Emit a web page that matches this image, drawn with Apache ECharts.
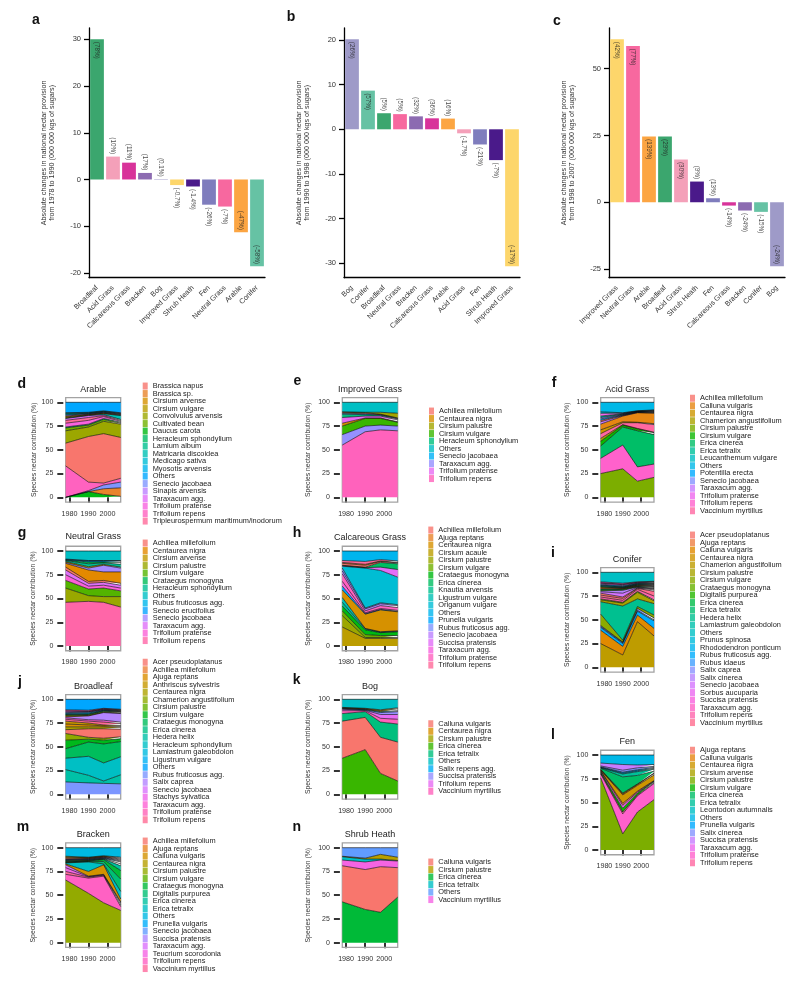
<!DOCTYPE html>
<html><head><meta charset="utf-8">
<script src="https://cdn.jsdelivr.net/npm/echarts@6/dist/echarts.min.js"></script>
<style>html,body{margin:0;padding:0;background:#fff}#c{width:800px;height:984px}</style>
</head><body><div id="c"></div><script>
// ---------- DATA: bar panels ----------
const aCats = ['Broadleaf','Acid Grass','Calcareous Grass','Bracken','Bog','Improved Grass','Shrub Heath','Fen','Neutral Grass','Arable','Conifer'];
const aVals = [30, 4.9, 3.6, 1.4, 0.1, -1.2, -1.5, -5.4, -5.8, -11.3, -18.6];
const aPct  = ['(78%)','(10%)','(11%)','(17%)','(0.1%)','(-0.7%)','(-1.4%)','(-26%)','(-7%)','(-47%)','(-58%)'];
const aTicks = [-20, -10, 0, 10, 20, 30];

const bCats = ['Bog','Conifer','Broadleaf','Neutral Grass','Bracken','Calcareous Grass','Arable','Acid Grass','Fen','Shrub Heath','Improved Grass'];
const bVals = [20.15, 8.66, 3.6, 3.4, 2.9, 2.46, 2.4, -0.9, -3.4, -6.9, -30.7];
const bPct  = ['(26%)','(57%)','(5%)','(5%)','(32%)','(36%)','(16%)','(-1.7%)','(-21%)','(-7%)','(-17%)'];
const bTicks = [-30, -20, -10, 0, 10, 20];

const cCats = ['Improved Grass','Neutral Grass','Arable','Broadleaf','Acid Grass','Shrub Heath','Fen','Calcareous Grass','Bracken','Conifer','Bog'];
const cVals = [61, 58.5, 24.6, 24.6, 16, 7.75, 1.5, -1.25, -3.1, -3.6, -24];
const cPct  = ['(42%)','(77%)','(139%)','(29%)','(30%)','(9%)','(13%)','(-14%)','(-24%)','(-15%)','(-24%)'];
const cTicks = [-25, 0, 25, 50];

// ---------- DATA: species panels ----------
const years = [1978, 1990, 1998, 2007];
const yearTicks = [1980, 1990, 2000];
const pctTicks = [0, 25, 50, 75, 100];

const arableSpecies = ['Brassica napus','Brassica sp.','Cirsium arvense','Cirsium vulgare','Convolvulus arvensis','Cultivated bean','Daucus carota','Heracleum sphondylium','Lamium album','Matricaria discoidea','Medicago sativa','Myosotis arvensis','Others','Senecio jacobaea','Sinapis arvensis','Taraxacum agg.','Trifolium pratense','Trifolium repens','Tripleurospermum maritimum/inodorum'];
const arableBands = [
 ['Daucus carota',[0,6,3,1]],['Brassica sp.',[0,0,6,9]],['Senecio jacobaea',[0,1,4,6]],['Trifolium repens',[33,9,2,4]],
 ['Brassica napus',[24,48,52,43]],['Convolvulus arvensis',[13,10,13,14]],['Cultivated bean',[3,2,2,1]],['Heracleum sphondylium',[1,1,1,1]],
 ['Trifolium pratense',[4,4,2,1]],['Tripleurospermum maritimum/inodorum',[3,3,1,1]],['Taraxacum agg.',[2,2,1,1]],['Matricaria discoidea',[0.5,0.5,1,4]],
 ['Cirsium arvense',[1,0.5,0.5,0.5]],['Cirsium vulgare',[1,0.5,0.5,0.5]],['Sinapis arvensis',[1,0.5,0.5,0.5]],['Myosotis arvensis',[1,0.5,0.5,0.5]],
 ['Lamium album',[1,0.5,0.5,0.5]],['Medicago sativa',[0.5,0.5,0.5,0.5]],['Others',[11,10.5,9,11]]];

const improvedSpecies = ['Achillea millefolium','Centaurea nigra','Cirsium palustre','Cirsium vulgare','Heracleum sphondylium','Others','Senecio jacobaea','Taraxacum agg.','Trifolium pratense','Trifolium repens'];
const improvedBands = [
 ['Trifolium repens',[55,69,71,70]],['Taraxacum agg.',[11,6,5,5]],['Cirsium vulgare',[9,8,7,4]],['Centaurea nigra',[3,0.5,0.5,0.5]],
 ['Trifolium pratense',[6,2,2,2]],['Heracleum sphondylium',[3.5,1.5,1,1]],['Senecio jacobaea',[1,1,0.5,0.5]],['Achillea millefolium',[1,1,0.5,0.5]],
 ['Cirsium palustre',[0.5,0.5,2,5]],['Others',[10,10.5,10.5,11.5]]];

const acidSpecies = ['Achillea millefolium','Calluna vulgaris','Centaurea nigra','Chamerion angustifolium','Cirsium palustre','Cirsium vulgare','Erica cinerea','Erica tetralix','Leucanthemum vulgare','Others','Potentilla erecta','Senecio jacobaea','Taraxacum agg.','Trifolium pratense','Trifolium repens','Vaccinium myrtillus'];
const acidBands = [
 ['Cirsium palustre',[25,30,17,21]],['Trifolium repens',[16,25,15,14]],['Erica cinerea',[13,19,38,31]],['Cirsium vulgare',[5,2,2,2]],
 ['Chamerion angustifolium',[3,0.5,0.5,0.5]],['Vaccinium myrtillus',[5,2,6,8]],['Centaurea nigra',[4,1,0.5,1]],['Calluna vulgaris',[6,6,10,11]],
 ['Taraxacum agg.',[2.5,0.5,0.3,0.5]],['Achillea millefolium',[1.5,0.5,0.3,0.5]],['Potentilla erecta',[1.5,0.5,0.3,0.5]],['Senecio jacobaea',[1.5,0.5,0.3,0.5]],
 ['Erica tetralix',[1.5,0.5,0.3,0.5]],['Trifolium pratense',[3,0.5,0.3,0.5]],['Leucanthemum vulgare',[1.5,0.5,0.3,0.5]],['Others',[10,11,9,8]]];

const neutralSpecies = ['Achillea millefolium','Centaurea nigra','Cirsium arvense','Cirsium palustre','Cirsium vulgare','Crataegus monogyna','Heracleum sphondylium','Others','Rubus fruticosus agg.','Senecio erucifolius','Senecio jacobaea','Taraxacum agg.','Trifolium pratense','Trifolium repens'];
const neutralBands = [
 ['Trifolium repens',[46,47,46,41]],['Cirsium palustre',[15,6,6,11]],['Cirsium vulgare',[8,7,9,6]],['Trifolium pratense',[6,3,3,3]],
 ['Taraxacum agg.',[5,3,3,3]],['Achillea millefolium',[3,2,2,2]],['Centaurea nigra',[4,12,9,12]],['Senecio jacobaea',[1,2,7,4]],
 ['Cirsium arvense',[1,1.5,1,1]],['Heracleum sphondylium',[1,3,1.5,3]],['Crataegus monogyna',[0.5,2,1,2]],['Rubus fruticosus agg.',[0.5,1,1,1.5]],
 ['Senecio erucifolius',[0.5,0.5,0.5,0.5]],['Others',[8.5,10,10,10]]];

const calcSpecies = ['Achillea millefolium','Ajuga reptans','Centaurea nigra','Cirsium acaule','Cirsium palustre','Cirsium vulgare','Crataegus monogyna','Erica cinerea','Knautia arvensis','Ligustrum vulgare','Origanum vulgare','Others','Prunella vulgaris','Rubus fruticosus agg.','Senecio jacobaea','Succisa pratensis','Taraxacum agg.','Trifolium pratense','Trifolium repens'];
const calcBands = [
 ['Cirsium acaule',[20,8,8,8]],['Cirsium palustre',[12,1,1,1]],['Cirsium vulgare',[5,3,2,2]],['Crataegus monogyna',[5,5,3,4]],
 ['Knautia arvensis',[4,1,0.5,0.5]],['Ligustrum vulgare',[5,0.5,0.5,0.5]],['Centaurea nigra',[8,15,23,20]],['Prunella vulgaris',[4,0.5,0.5,0.5]],
 ['Taraxacum agg.',[5,1,1,1]],['Trifolium pratense',[8,2,3,3]],['Senecio jacobaea',[3,2,2,2]],['Rubus fruticosus agg.',[3,1,1,1]],
 ['Origanum vulgare',[2,42,34,29]],['Succisa pratensis',[0.5,0.5,3.5,8]],['Erica cinerea',[0.5,0.5,5,6]],['Achillea millefolium',[2,2,1,1]],
 ['Ajuga reptans',[1,1,0.5,0.5]],['Trifolium repens',[2,3,1.5,1.5]],['Others',[10,11,9,10.5]]];

const coniferSpecies = ['Acer pseudoplatanus','Ajuga reptans','Calluna vulgaris','Centaurea nigra','Chamerion angustifolium','Cirsium palustre','Cirsium vulgare','Crataegus monogyna','Digitalis purpurea','Erica cinerea','Erica tetralix','Hedera helix','Lamiastrum galeobdolon','Others','Prunus spinosa','Rhododendron ponticum','Rubus fruticosus agg.','Rubus idaeus','Salix caprea','Salix cinerea','Senecio jacobaea','Sorbus aucuparia','Succisa pratensis','Taraxacum agg.','Trifolium repens','Vaccinium myrtillus'];
const coniferBands = [
 ['Chamerion angustifolium',[25,13,48,33]],['Calluna vulgaris',[14,9,7,8]],['Rubus fruticosus agg.',[3,3,4,8]],['Rubus idaeus',[1,1,1,1]],
 ['Salix caprea',[1,0.5,2,2]],['Cirsium vulgare',[12,2,2,3]],['Hedera helix',[13,36,8,12]],['Cirsium palustre',[2,3,7,3]],
 ['Crataegus monogyna',[1,1,1,1]],['Trifolium repens',[2,2,2,4]],['Vaccinium myrtillus',[2,2,1,5]],['Acer pseudoplatanus',[2,1.5,0.5,1.5]],
 ['Senecio jacobaea',[1.5,4,0.5,1]],['Salix cinerea',[1,3,0.5,0.5]],['Digitalis purpurea',[1,1,0.5,1]],['Erica cinerea',[1,0.5,0.5,1]],
 ['Ajuga reptans',[1,0.5,0.5,0.5]],['Centaurea nigra',[1,0.5,0.5,0.5]],['Erica tetralix',[0.5,0.5,0.5,1]],['Lamiastrum galeobdolon',[1,0.5,0.5,0.5]],
 ['Prunus spinosa',[0.5,0.5,0.5,0.5]],['Rhododendron ponticum',[1,1,0.5,0.5]],['Sorbus aucuparia',[1,1,0.5,1]],['Succisa pratensis',[0.5,0.5,0.5,0.5]],
 ['Taraxacum agg.',[1,1,0.5,0.5]],['Others',[10,11.5,10,9.5]]];

const broadSpecies = ['Acer pseudoplatanus','Achillea millefolium','Ajuga reptans','Anthriscus sylvestris','Centaurea nigra','Chamerion angustifolium','Cirsium palustre','Cirsium vulgare','Crataegus monogyna','Erica cinerea','Hedera helix','Heracleum sphondylium','Lamiastrum galeobdolon','Ligustrum vulgare','Others','Rubus fruticosus agg.','Salix caprea','Senecio jacobaea','Stachys sylvatica','Taraxacum agg.','Trifolium pratense','Trifolium repens'];
const broadBands = [
 ['Rubus fruticosus agg.',[13,12,11.5,11]],['Hedera helix',[13,8,2.5,9.5]],['Heracleum sphondylium',[12,20,19,19]],['Crataegus monogyna',[10,15,20,16]],
 ['Cirsium vulgare',[9,3,4,3]],['Chamerion angustifolium',[7,2,2,2]],['Acer pseudoplatanus',[4,9,10,8]],['Centaurea nigra',[3,2,2,2]],
 ['Ajuga reptans',[3,2,1,1]],['Anthriscus sylvestris',[3,2,1,1]],['Trifolium repens',[2,2,3,2]],['Taraxacum agg.',[1.5,1.5,2,1.5]],
 ['Salix caprea',[1,4,8,9]],['Achillea millefolium',[1,0.5,0.5,0.5]],['Cirsium palustre',[1,1,1,1]],['Erica cinerea',[0.5,0.5,0.5,0.5]],
 ['Lamiastrum galeobdolon',[1,1,0.5,0.5]],['Ligustrum vulgare',[1,1,0.5,0.5]],['Senecio jacobaea',[1,0.5,0.5,0.5]],['Stachys sylvatica',[1,0.5,0.5,0.5]],
 ['Trifolium pratense',[1,1,0.5,0.5]],['Others',[11,11.5,9.5,10.5]]];

const bogSpecies = ['Calluna vulgaris','Centaurea nigra','Cirsium palustre','Erica cinerea','Erica tetralix','Others','Salix repens agg.','Succisa pratensis','Trifolium repens','Vaccinium myrtillus'];
const bogBands = [
 ['Erica cinerea',[38,47,22,14]],['Calluna vulgaris',[39,34,38,41]],['Erica tetralix',[8,6,16,19]],['Vaccinium myrtillus',[3,1,4,5]],
 ['Trifolium repens',[1.5,0.5,4,5]],['Succisa pratensis',[0.5,0.5,2,3]],['Salix repens agg.',[0.5,0.5,1,1]],['Cirsium palustre',[0.5,0.5,1,2]],
 ['Centaurea nigra',[0.5,0.5,1,1]],['Others',[8.5,9.5,11,9]]];

const fenSpecies = ['Ajuga reptans','Calluna vulgaris','Centaurea nigra','Cirsium arvense','Cirsium palustre','Cirsium vulgare','Erica cinerea','Erica tetralix','Leontodon autumnalis','Others','Prunella vulgaris','Salix cinerea','Succisa pratensis','Taraxacum agg.','Trifolium pratense','Trifolium repens'];
const fenBands = [
 ['Cirsium palustre',[76,17,40,53]],['Trifolium pratense',[4,21,17,17]],['Trifolium repens',[1,2,1,1]],['Cirsium vulgare',[1,4,2,1]],
 ['Taraxacum agg.',[1,3,1,0.5]],['Ajuga reptans',[0.5,2,1,0.5]],['Centaurea nigra',[0.5,9,6,6]],['Calluna vulgaris',[0.5,1,1,1.5]],
 ['Cirsium arvense',[0.5,1,0.5,0.5]],['Erica cinerea',[1,17,9,2]],['Erica tetralix',[0.5,3,4,2]],['Leontodon autumnalis',[0.5,1,1,1]],
 ['Prunella vulgaris',[0.5,1,1,1]],['Salix cinerea',[1,2,2,1]],['Succisa pratensis',[3,6,3,2]],['Others',[8.5,10,10.5,10]]];

const brackenSpecies = ['Achillea millefolium','Ajuga reptans','Calluna vulgaris','Centaurea nigra','Cirsium palustre','Cirsium vulgare','Crataegus monogyna','Digitalis purpurea','Erica cinerea','Erica tetralix','Others','Prunella vulgaris','Senecio jacobaea','Succisa pratensis','Taraxacum agg.','Teucrium scorodonia','Trifolium repens','Vaccinium myrtillus'];
const brackenBands = [
 ['Cirsium palustre',[66,52,42,34]],['Trifolium repens',[6,16,28,4]],['Vaccinium myrtillus',[3,1,1,2]],['Teucrium scorodonia',[4,0.5,0.5,2]],
 ['Taraxacum agg.',[3,0.5,0.5,1]],['Calluna vulgaris',[1,5,10,3]],['Erica tetralix',[1,10,1,8]],['Digitalis purpurea',[0.5,0.5,2.5,13]],
 ['Crataegus monogyna',[0.5,0.5,2,9]],['Erica cinerea',[0.5,0.5,0.5,5]],['Cirsium vulgare',[1,0.5,0.5,2]],['Prunella vulgaris',[0.5,0.5,0.5,2]],
 ['Senecio jacobaea',[0.5,0.5,0.5,1]],['Succisa pratensis',[0.5,0.5,0.5,1]],['Achillea millefolium',[1,0.5,0.5,1]],['Ajuga reptans',[1,0.5,0.5,1]],
 ['Centaurea nigra',[1,0.5,0.5,1]],['Others',[9,10,8.5,10]]];

const shrubSpecies = ['Calluna vulgaris','Cirsium palustre','Erica cinerea','Erica tetralix','Others','Vaccinium myrtillus'];
const shrubBands = [
 ['Erica cinerea',[43,35,32,48]],['Calluna vulgaris',[38,42,48,31]],['Vaccinium myrtillus',[6,8,7,7]],
 ['Erica tetralix',[3.5,3,1,0.5]],['Cirsium palustre',[0.5,1,5,3.5]],['Others',[9,11,7,10]]];

// ---------- STYLE / LAYOUT ----------
const FONT = '"Liberation Sans", Arial, Helvetica, sans-serif';
const habitatColor = {
  'Broadleaf':'#3ba66e','Acid Grass':'#f4a0b9','Calcareous Grass':'#d8339a','Bracken':'#8c6bb1','Bog':'#9e9ac8',
  'Improved Grass':'#fdd66b','Shrub Heath':'#4a1a8a','Fen':'#7f7dbd','Neutral Grass':'#f7689f','Arable':'#fca542','Conifer':'#66c2a4'
};

function hcl(h, c, l) {
  const hr = h * Math.PI / 180;
  const U = c * Math.cos(hr), V = c * Math.sin(hr);
  const Xn = 95.047, Yn = 100, Zn = 108.883;
  const den = Xn + 15 * Yn + 3 * Zn;
  const un = 4 * Xn / den, vn = 9 * Yn / den;
  const Y = l > 8 ? Yn * Math.pow((l + 16) / 116, 3) : Yn * l / 903.3;
  const u = U / (13 * l) + un, v = V / (13 * l) + vn;
  const X = 9 * Y * u / (4 * v), Z = Y * (12 - 3 * u - 20 * v) / (4 * v);
  const x = X / 100, y = Y / 100, z = Z / 100;
  const r = 3.240479 * x - 1.537150 * y - 0.498535 * z;
  const g = -0.969256 * x + 1.875992 * y + 0.041556 * z;
  const b = 0.055648 * x - 0.204043 * y + 1.057311 * z;
  const gam = t => { t = t <= 0.0031308 ? 12.92 * t : 1.055 * Math.pow(t, 1 / 2.4) - 0.055; return Math.round(Math.max(0, Math.min(1, t)) * 255); };
  return 'rgb(' + gam(r) + ',' + gam(g) + ',' + gam(b) + ')';
}
function huePal(n) { const out = []; for (let i = 0; i < n; i++) out.push(hcl((15 + 360 * i / n) % 360, 100, 65)); return out; }

const option = { animation: false, backgroundColor: '#fff', title: [], grid: [], xAxis: [], yAxis: [], series: [], legend: [] };

function letter(t, x, y) {
  option.title.push({ text: t, left: x, top: y, padding: 0, textAlign: 'center', textVerticalAlign: 'middle',
    textStyle: { fontFamily: FONT, fontSize: 14, fontWeight: 'bold', color: '#111' } });
}

// ---------- bar panels ----------
const barPanels = [
  { key: 'a', cats: aCats, vals: aVals, pct: aPct, ticks: aTicks, left: 89, lx: 36, ly: 20,
    name: 'Absolute changes in national nectar provision\nfrom 1978 to 1990 (000 000 kgs of sugars)' },
  { key: 'b', cats: bCats, vals: bVals, pct: bPct, ticks: bTicks, left: 344, lx: 291, ly: 17,
    name: 'Absolute changes in national nectar provision\nfrom 1990 to 1998 (000 000 kgs of sugars)' },
  { key: 'c', cats: cCats, vals: cVals, pct: cPct, ticks: cTicks, left: 609, lx: 557, ly: 21,
    name: 'Absolute changes in national nectar provision\nfrom 1998 to 2007 (000 000 kgs of sugars)' }
];
barPanels.forEach(p => {
  const gi = option.grid.length;
  const dmin = Math.min.apply(null, p.vals), dmax = Math.max.apply(null, p.vals);
  const span = dmax - dmin;
  const ymin = dmin - 0.05 * span, ymax = dmax + 0.05 * span;
  const yr = ymax - ymin;
  option.grid.push({ left: p.left, top: 28, width: 176, height: 249.7 });
  option.xAxis.push({ type: 'category', gridIndex: gi, data: p.cats,
    axisLine: { onZero: false, lineStyle: { color: '#000', width: 1.3 } },
    axisTick: { alignWithLabel: true, length: 5, lineStyle: { color: '#000', width: 1.3 } },
    axisLabel: { interval: 0, rotate: 45, fontSize: 7.2, color: '#333', margin: 9, fontFamily: FONT } });
  option.yAxis.push({ type: 'value', gridIndex: gi, min: ymin, max: ymax,
    axisLine: { show: true, lineStyle: { color: '#000', width: 1.3 } },
    axisTick: { show: true, customValues: p.ticks, length: 5, lineStyle: { color: '#000', width: 1.3 } },
    axisLabel: { customValues: p.ticks, fontSize: 7.5, color: '#333', margin: 8, fontFamily: FONT },
    splitLine: { show: false },
    name: p.name, nameLocation: 'middle', nameGap: 33,
    nameTextStyle: { fontSize: 7.2, color: '#333', lineHeight: 8.2, fontFamily: FONT } });
  option.series.push({ type: 'bar', xAxisIndex: gi, yAxisIndex: gi, barCategoryGap: '14%', silent: true,
    data: p.vals.map((v, i) => ({ value: v, itemStyle: { color: habitatColor[p.cats[i]] } })) });
  option.series.push({ type: 'scatter', xAxisIndex: gi, yAxisIndex: gi, symbolSize: 0, silent: true,
    data: p.vals.map((v, i) => {
      const inside = Math.abs(v) / yr > 0.145;
      const down = (v >= 0 && inside) || (v < 0 && !inside);
      return { value: [i, v], label: { show: true, formatter: p.pct[i], rotate: -90,
        position: down ? 'bottom' : 'top', align: down ? 'left' : 'right', verticalAlign: 'middle',
        distance: 2.5, fontSize: 6.3, color: '#222', fontFamily: FONT } };
    }) });
  letter(p.key, p.lx, p.ly);
});

// ---------- species panels ----------
const cols = [{ left: 65.7, width: 55 }, { left: 342.3, width: 55.4 }, { left: 600.7, width: 53.3 }];
const smallPanels = [
  { key: 'd', title: 'Arable', species: arableSpecies, bands: arableBands, col: 0, top: 397.55, ty: 389.3, lx: 21.7, ly: 384, gx: 142.7, gy: 382.3, ng: 18 },
  { key: 'e', title: 'Improved Grass', species: improvedSpecies, bands: improvedBands, col: 1, top: 397.55, ty: 389.3, lx: 297.3, ly: 381, gx: 429, gy: 407.3, ng: 28 },
  { key: 'f', title: 'Acid Grass', species: acidSpecies, bands: acidBands, col: 2, top: 397.55, ty: 389.3, lx: 554, ly: 383, gx: 690, gy: 394.5, ng: 28 },
  { key: 'g', title: 'Neutral Grass', species: neutralSpecies, bands: neutralBands, col: 0, top: 546.25, ty: 537, lx: 22, ly: 533, gx: 142.7, gy: 539.3, ng: 27 },
  { key: 'h', title: 'Calcareous Grass', species: calcSpecies, bands: calcBands, col: 1, top: 546.25, ty: 537.3, lx: 297, ly: 533, gx: 428.3, gy: 526.3, ng: 28 },
  { key: 'i', title: 'Conifer', species: coniferSpecies, bands: coniferBands, col: 2, top: 567.55, ty: 559.3, lx: 553, ly: 553, gx: 690, gy: 531.3, ng: 28 },
  { key: 'j', title: 'Broadleaf', species: broadSpecies, bands: broadBands, col: 0, top: 694.55, ty: 686.7, lx: 20, ly: 681.7, gx: 142.7, gy: 658.5, ng: 27 },
  { key: 'k', title: 'Bog', species: bogSpecies, bands: bogBands, col: 1, top: 694.55, ty: 686.7, lx: 296.7, ly: 680, gx: 428.3, gy: 720, ng: 28 },
  { key: 'l', title: 'Fen', species: fenSpecies, bands: fenBands, col: 2, top: 750.25, ty: 741.7, lx: 553, ly: 735, gx: 690, gy: 746.5, ng: 28 },
  { key: 'm', title: 'Bracken', species: brackenSpecies, bands: brackenBands, col: 0, top: 842.95, ty: 835, lx: 23, ly: 827.5, gx: 142.7, gy: 837.3, ng: 27 },
  { key: 'n', title: 'Shrub Heath', species: shrubSpecies, bands: shrubBands, col: 1, top: 842.95, ty: 835, lx: 296.7, ly: 827.5, gx: 428.3, gy: 858.3, ng: 28 }
];
smallPanels.forEach(p => {
  const gi = option.grid.length;
  const c = cols[p.col];
  const pal = huePal(p.species.length);
  option.grid.push({ left: c.left, top: p.top, width: c.width, height: 104.5, show: true, z: 3,
    borderColor: '#a3a3a3', borderWidth: 1.3, backgroundColor: 'rgba(0,0,0,0)' });
  option.xAxis.push({ type: 'value', gridIndex: gi, min: 1978, max: 2007,
    axisLine: { show: false }, splitLine: { show: false },
    axisTick: { show: true, customValues: yearTicks, length: 5.5, lineStyle: { color: '#000', width: 1.6 } },
    axisLabel: { customValues: yearTicks, formatter: v => String(v), fontSize: 7.2, color: '#333', margin: 8, fontFamily: FONT } });
  option.yAxis.push({ type: 'value', gridIndex: gi, min: -5, max: 105, offset: 2.4,
    axisLine: { show: false }, splitLine: { show: false },
    axisTick: { show: true, customValues: pctTicks, length: 6, lineStyle: { color: '#000', width: 1.6 } },
    axisLabel: { customValues: pctTicks, fontSize: 7, color: '#333', margin: 10, fontFamily: FONT },
    name: 'Species nectar contribution (%)', nameLocation: 'middle', nameGap: p.ng,
    nameTextStyle: { fontSize: 6.8, color: '#333', fontFamily: FONT } });
  p.bands.forEach(([name, vals]) => {
    const col = pal[p.species.indexOf(name)];
    // data as [share, year]: the share column is the stacked one
    option.series.push({ type: 'line', name: name, xAxisIndex: gi, yAxisIndex: gi, stack: 'st' + p.key,
      encode: { x: 1, y: 0 },
      data: years.map((y, i) => [vals[i], y]), symbol: 'none', silent: true,
      lineStyle: { color: '#000', width: 0.6 }, itemStyle: { color: col },
      areaStyle: { color: col, opacity: 1 } });
  });
  option.legend.push({ orient: 'vertical', left: p.gx, top: p.gy, padding: 0, itemGap: 0,
    itemWidth: 5, itemHeight: 7, icon: 'rect', selectedMode: false,
    itemStyle: { borderWidth: 0 },
    textStyle: { fontSize: 7.4, color: '#222', lineHeight: 7.5, fontFamily: FONT },
    data: p.species.map((s, i) => ({ name: s, itemStyle: { color: pal[i], opacity: 0.8 } })) });
  option.title.push({ text: p.title, left: c.left + c.width / 2, top: p.ty, padding: 0, textAlign: 'center', textVerticalAlign: 'middle',
    textStyle: { fontFamily: FONT, fontSize: 9, fontWeight: 'normal', color: '#222' } });
  letter(p.key, p.lx, p.ly);
});

const chart = echarts.init(document.getElementById('c'), null, { renderer: 'canvas' });
chart.setOption(option);
</script></body></html>
